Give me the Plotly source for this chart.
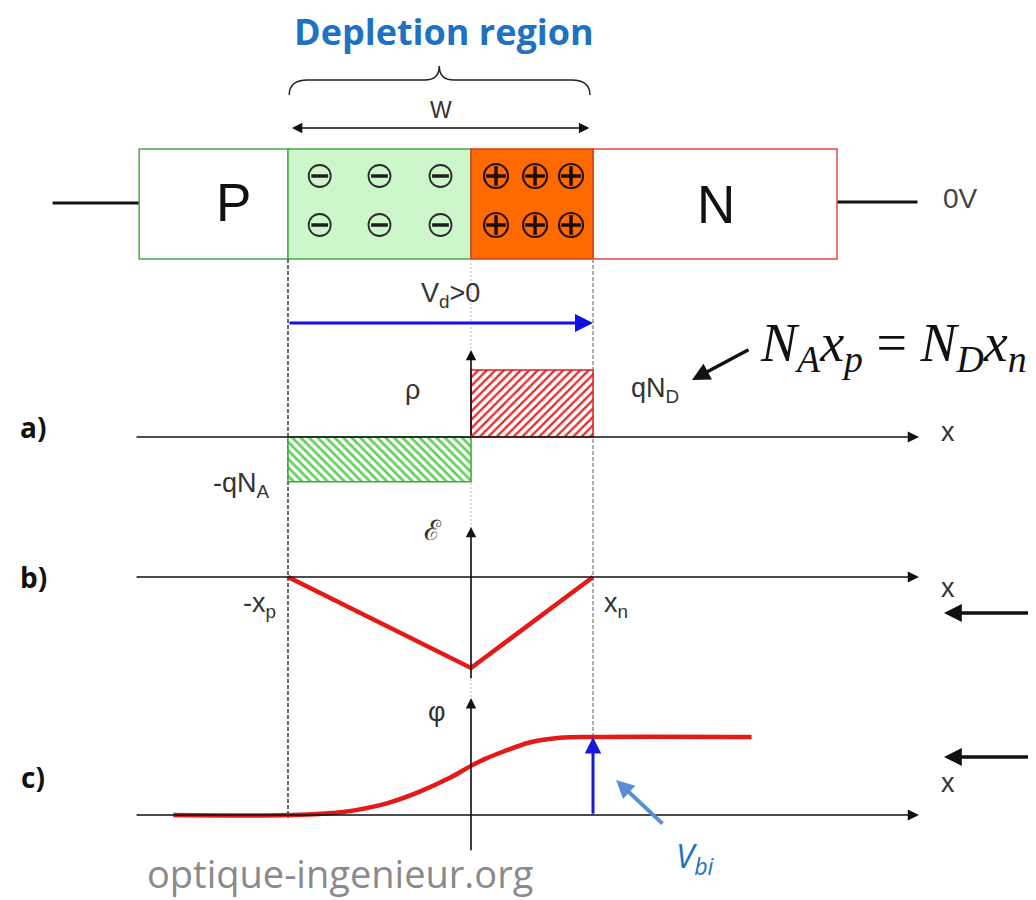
import plotly.graph_objects as go

# ---------------- data (drawing units: x in units of x_n, junction at 0) ----------------
PX_PER_UNIT, X0_PX = 122.0, 471.0     # drawing scale
PAGE_OFF = 8                          # default page margin of the html body
FIG_W, FIG_H = 1036 - PAGE_OFF, 900 - PAGE_OFF
X_MIN = (PAGE_OFF - X0_PX) / PX_PER_UNIT
X_MAX = (1036 - X0_PX) / PX_PER_UNIT

XP_EDGE, XN_EDGE = -1.5, 1.0          # -x_p and x_n
P_LEFT, N_RIGHT = -2.72, 3.0          # ends of the P and N bars
LEAD_LEFT, LEAD_RIGHT = -3.43, 3.66   # contact wires

# ion positions in depletion region
neg_ion_x = [-1.24, -0.75, -0.25]
pos_ion_x = [0.205, 0.525, 0.82]
ion_rows = [176, 225]

# a) charge density
rho_x_left = [-1.5, 0.0]
rho_width = [1.5, 1.0]
rho_values = [-0.667, 1.0]           # -qN_A , qN_D

# b) electric field
E_x = [-1.5, 0.0, 1.0]
E_y = [0.0, -1.0, 0.0]

# c) potential (read from picture)
phi_x = [-2.44, -1.5, -1.05, -0.69, -0.42, -0.17, 0.0, 0.13, 0.26, 0.48, 0.73, 1.0, 2.3]
phi_y = [0.0, 0.0, 0.04, 0.15, 0.30, 0.48, 0.63, 0.73, 0.81, 0.93, 0.99, 1.0, 1.0]
V_BI = 1.0

AXIS_START, AXIS_END = -2.754, 3.672


def dom(top_px, bot_px):
    return [1 - (bot_px - PAGE_OFF) / FIG_H, 1 - (top_px - PAGE_OFF) / FIG_H]


fig = go.Figure()

LBL = dict(family="Liberation Sans", size=27, color="#333333")

# ---------------- device ----------------
shapes = []
shapes.append(dict(type="line", xref="x", yref="y", x0=LEAD_LEFT, x1=P_LEFT, y0=203, y1=203,
                   line=dict(color="#111", width=3), layer="below"))
shapes.append(dict(type="line", xref="x", yref="y", x0=N_RIGHT, x1=LEAD_RIGHT, y0=202, y1=202,
                   line=dict(color="#111", width=3), layer="below"))
shapes.append(dict(type="rect", xref="x", yref="y", x0=P_LEFT, x1=XP_EDGE, y0=149, y1=259,
                   fillcolor="white", line=dict(color="#4aa84a", width=1.5), layer="below"))
shapes.append(dict(type="rect", xref="x", yref="y", x0=XP_EDGE, x1=0, y0=149, y1=259,
                   fillcolor="#cdf7cb", line=dict(color="#4aa84a", width=1.5), layer="below"))
shapes.append(dict(type="rect", xref="x", yref="y", x0=XN_EDGE, x1=N_RIGHT, y0=149, y1=259,
                   fillcolor="white", line=dict(color="#e04848", width=1.5), layer="below"))
shapes.append(dict(type="rect", xref="x", yref="y", x0=0, x1=XN_EDGE, y0=149, y1=259,
                   fillcolor="#ff6a00", line=dict(color="#d2401a", width=1.5), layer="below"))

# brace
bx0, bx1, btip = -1.49, 0.975, -0.26
brace = (f"M {bx0},95 Q {bx0},80 {bx0+0.15},80 L {btip-0.12},80 Q {btip},80 {btip},66 "
         f"Q {btip},80 {btip+0.12},80 L {bx1-0.15},80 Q {bx1},80 {bx1},95")
shapes.append(dict(type="path", xref="x", yref="y", path=brace,
                   line=dict(color="#222", width=1.5)))

# vertical guide lines
shapes.append(dict(type="line", xref="x", yref="y", x0=0, x1=0, y0=259, y1=815,
                   line=dict(color="#bbbbbb", width=1, dash="2px,2px"), layer="below"))
shapes.append(dict(type="line", xref="x", yref="y", x0=XP_EDGE, x1=XP_EDGE, y0=259, y1=818,
                   line=dict(color="#444444", width=1.6, dash="4px,2px"), layer="below"))
shapes.append(dict(type="line", xref="x", yref="y", x0=XN_EDGE, x1=XN_EDGE, y0=259, y1=815,
                   line=dict(color="#9a9a9a", width=1.6, dash="4px,2px"), layer="below"))

# ions
for row in ion_rows:
    fig.add_trace(go.Scatter(x=neg_ion_x, y=[row]*3, mode="markers", xaxis="x", yaxis="y",
                             marker=dict(symbol="circle", size=22, color="#cdf7cb",
                                         line=dict(color="#2a2a2a", width=1.8)),
                             showlegend=False, hoverinfo="skip"))
    fig.add_trace(go.Scatter(x=neg_ion_x, y=[row]*3, mode="markers", xaxis="x", yaxis="y",
                             marker=dict(symbol="line-ew", size=12,
                                         line=dict(color="#1e1e1e", width=3.5)),
                             showlegend=False, hoverinfo="skip"))
    fig.add_trace(go.Scatter(x=pos_ion_x, y=[row]*3, mode="markers", xaxis="x", yaxis="y",
                             marker=dict(symbol="circle", size=24, color="#ff6a00",
                                         line=dict(color="#2a1200", width=2.2)),
                             showlegend=False, hoverinfo="skip"))
    fig.add_trace(go.Scatter(x=pos_ion_x, y=[row]*3, mode="markers", xaxis="x", yaxis="y",
                             marker=dict(symbol="cross-thin", size=14,
                                         line=dict(color="#1a0a00", width=3.5)),
                             showlegend=False, hoverinfo="skip"))

# ---------------- a) rho ----------------
fig.add_trace(go.Bar(x=[rho_x_left[1] + rho_width[1] / 2], y=[rho_values[1]], width=[rho_width[1]],
                     xaxis="x", yaxis="y2", showlegend=False, hoverinfo="skip",
                     marker=dict(color="#e23030", line=dict(color="#e02020", width=1.5),
                                 pattern=dict(shape="/", size=6, solidity=0.4,
                                              fillmode="replace", bgcolor="white"))))
fig.add_trace(go.Bar(x=[rho_x_left[0] + rho_width[0] / 2], y=[rho_values[0]], width=[rho_width[0]],
                     xaxis="x", yaxis="y2", showlegend=False, hoverinfo="skip",
                     marker=dict(color="#62d05a", line=dict(color="#3aa83a", width=1.5),
                                 pattern=dict(shape="\\", size=6, solidity=0.45,
                                              fillmode="replace", bgcolor="white"))))

# ---------------- b) E ----------------
fig.add_trace(go.Scatter(x=E_x, y=E_y, mode="lines", xaxis="x", yaxis="y3",
                         line=dict(color="#e41a1a", width=4.5), showlegend=False, hoverinfo="skip"))

# ---------------- c) phi ----------------
fig.add_trace(go.Scatter(x=phi_x, y=phi_y, mode="lines", xaxis="x", yaxis="y4",
                         line=dict(color="#e41a1a", width=4.5, shape="spline", smoothing=1.0),
                         showlegend=False, hoverinfo="skip"))

ann = []


def arrow(x, y, ax, ay, yref, color="#111", width=1.5, size=1.3, head=2, side="end"):
    ann.append(dict(x=x, y=y, ax=ax, ay=ay, xref="x", yref=yref, axref="x", ayref=yref,
                    showarrow=True, arrowhead=head, arrowsize=size, arrowwidth=width,
                    arrowcolor=color, arrowside=side, standoff=0, startstandoff=0, text=""))


def text(x, y, s, font, yref="y", xanchor="center", yanchor="middle"):
    ann.append(dict(x=x, y=y, xref="x", yref=yref, text=s, showarrow=False, font=font,
                    xanchor=xanchor, yanchor=yanchor))


# axes: horizontal
for yr in ["y2", "y3", "y4"]:
    arrow(AXIS_END, 0, AXIS_START, 0, yr, width=1.6, size=1.4)
# vertical axes
arrow(0, 1.30, 0, 0, "y2", width=1.6, size=1.3)
arrow(0, 0.55, 0, -1.13, "y3", width=1.6, size=1.3)
arrow(0, 1.5, 0, -0.47, "y4", width=1.6, size=1.3)
# V_bi arrow
arrow(XN_EDGE, V_BI, XN_EDGE, 0, "y4", color="#1818d8", width=3, size=1.1)

# W arrow
arrow(0.97, 128, -1.48, 128, "y", width=1.6, size=1.3, side="end+start")
# Vd arrow
arrow(XN_EDGE, 323, XP_EDGE, 323, "y", color="#1010e6", width=3, size=1.2)
# equation pointer
arrow(1.811, 380, 2.287, 349, "y", color="#111", width=3.4, size=1.05)
# right side arrows
arrow(3.877, 613, 4.62, 613, "y", color="#111", width=3.4, size=1.05)
arrow(3.877, 757, 4.62, 757, "y", color="#111", width=3.4, size=1.05)
# V_bi pointer
arrow(1.189, 780, 1.582, 825, "y", color="#5a8fd6", width=4, size=0.9)

# texts
text(-0.22, 31, "<b>Depletion region</b>", dict(family="Open Sans", size=36, color="#1f72c2"))
text(-0.25, 110, "W", dict(family="Liberation Sans", size=23, color="#333"))
text(-1.95, 202, "P", dict(family="Liberation Sans", size=53, color="#111"))
text(2.01, 204, "N", dict(family="Liberation Sans", size=53, color="#111"))
text(4.01, 198, "0V", dict(family="Liberation Sans", size=28, color="#444"))
text(-0.17, 295, "V<sub>d</sub>&gt;0", LBL)
text(-0.48, 390, "ρ", LBL)
text(1.51, 390, "qN<sub>D</sub>", LBL)
text(-1.88, 485, "-qN<sub>A</sub>", LBL)
text(3.91, 432, "x", LBL)
text(3.91, 588, "x", LBL)
text(3.91, 783, "x", LBL)
text(-0.31, 530, "ℰ", dict(family="DejaVu Serif", size=28, color="#333"))
text(-0.28, 712, "φ", LBL)
text(-1.73, 605, "-x<sub>p</sub>", LBL)
text(1.19, 605, "x<sub>n</sub>", LBL)
BOLD = dict(family="Open Sans", size=28, color="#111")
text(-3.59, 427, "<b>a)</b>", BOLD)
text(-3.59, 577, "<b>b)</b>", BOLD)
text(-3.59, 777, "<b>c)</b>", BOLD)
text(2.35, 346,
     "<i>N</i><sub><i>A</i></sub><i>x</i><sub><i>p</i></sub> = <i>N</i><sub><i>D</i></sub><i>x</i><sub><i>n</i></sub>",
     dict(family="Liberation Serif", size=54, color="#111"), xanchor="left")
text(1.84, 857, "<i>V</i><sub><i>bi</i></sub>", dict(family="Open Sans", size=33, color="#1f72c2"))
text(-1.07, 873, "optique-ingenieur.org", dict(family="Open Sans", size=38, color="#8a8a8a"))

hidden = dict(visible=False, showgrid=False, zeroline=False, fixedrange=True)
fig.update_layout(
    width=FIG_W, height=FIG_H, margin=dict(l=0, r=0, t=0, b=0),
    paper_bgcolor="white", plot_bgcolor="rgba(0,0,0,0)",
    barmode="overlay", showlegend=False,
    xaxis=dict(range=[X_MIN, X_MAX], domain=[0, 1], anchor="y", **hidden),
    yaxis=dict(range=[900, PAGE_OFF], domain=[0, 1], anchor="x", **hidden),
    yaxis2=dict(range=[-0.940, 1.448], domain=dom(340, 500), anchor="x", **hidden),
    yaxis3=dict(range=[-1.242, 0.736], domain=dom(510, 690), anchor="x", **hidden),
    yaxis4=dict(range=[-0.705, 1.603], domain=dom(690, 870), anchor="x", **hidden),
    shapes=shapes, annotations=ann,
)

fig.write_html("out.html")
